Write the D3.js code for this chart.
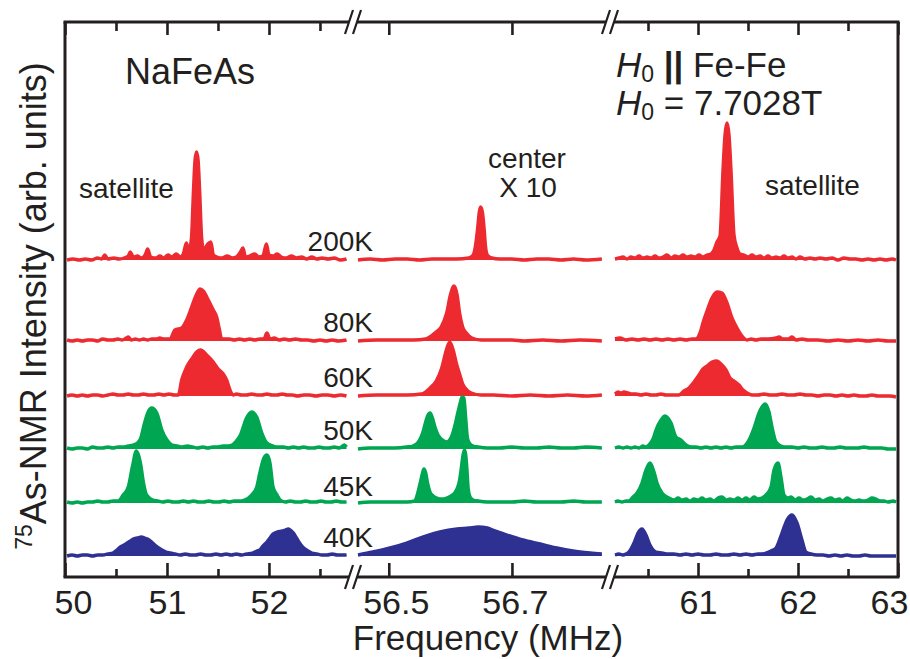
<!DOCTYPE html>
<html>
<head>
<meta charset="utf-8">
<script src="https://cdn.jsdelivr.net/npm/d3@7"></script>
<style>
  body { margin: 0; background: #ffffff; }
  svg text { font-family: "Liberation Sans", Arial, Helvetica, sans-serif; fill: #231f20; }
</style>
</head>
<body>
<svg id="chart" width="910" height="659"></svg>
<script>
// ---- 75As-NMR spectra of NaFeAs: [frequency (MHz), intensity (arb. units)] ----
const temperatures = ["200K", "80K", "60K", "50K", "45K", "40K"];

// low-frequency satellite
const lowSat200 = [[50.02,0],[50.08,1],[50.14,0],[50.20,1],[50.26,0],[50.32,2],[50.36,1],[50.39,5],[50.42,1],[50.48,2],[50.53,1],[50.58,2],[50.62,4],[50.64,8],[50.67,3],[50.71,4],[50.75,2],[50.79,6],[50.81,11],[50.84,3],[50.89,2],[50.93,4],[50.97,2],[51.01,5],[51.05,3],[51.09,6],[51.13,3],[51.16,6],[51.19,17],[51.215,9],[51.24,22],[51.26,70],[51.275,100],[51.29,108],[51.305,100],[51.32,70],[51.34,22],[51.36,10],[51.40,16],[51.43,18],[51.455,5],[51.49,3],[51.54,2],[51.59,4],[51.64,2],[51.68,3],[51.72,8],[51.745,12],[51.77,3],[51.81,4],[51.86,6],[51.90,3],[51.94,4],[51.975,16],[52.00,5],[52.04,4],[52.08,6],[52.12,3],[52.17,2],[52.22,4],[52.27,2],[52.32,3],[52.37,1],[52.42,3],[52.47,1],[52.52,2],[52.58,1],[52.64,2],[52.70,0],[52.76,1]];
const lowSat80 = [[50.02,1],[50.07,0],[50.12,1],[50.17,0],[50.22,1],[50.27,1],[50.32,0],[50.37,2],[50.42,1],[50.47,1],[50.52,2],[50.56,1],[50.60,3],[50.62,4],[50.65,1],[50.69,2],[50.73,1],[50.77,2],[50.81,1],[50.85,2],[50.89,2],[50.93,3],[50.97,2],[51.03,2],[51.078,11],[51.144,13],[51.193,21],[51.242,34],[51.291,47],[51.324,52],[51.356,50],[51.405,41],[51.454,31],[51.487,24],[51.513,12],[51.536,2],[51.56,2],[51.61,2],[51.66,1],[51.71,2],[51.76,1],[51.81,2],[51.86,1],[51.91,2],[51.95,2],[51.98,8],[52.01,2],[52.05,3],[52.10,1],[52.15,2],[52.20,1],[52.26,2],[52.32,1],[52.38,1],[52.44,0],[52.50,1],[52.56,0],[52.62,1],[52.68,0],[52.76,1]];
const lowSat60 = [[50.02,0],[50.07,1],[50.12,0],[50.17,1],[50.22,0],[50.27,1],[50.32,1],[50.37,0],[50.42,1],[50.47,2],[50.52,1],[50.57,1],[50.62,2],[50.67,1],[50.72,1],[50.77,2],[50.82,1],[50.87,1],[50.92,2],[50.97,1],[51.02,2],[51.07,1],[51.111,1],[51.144,16],[51.193,29],[51.242,37],[51.291,44],[51.330,46],[51.389,41],[51.454,34],[51.503,27],[51.552,22],[51.585,16],[51.618,6],[51.650,1],[51.68,2],[51.73,1],[51.78,1],[51.83,2],[51.88,1],[51.93,1],[51.98,2],[52.03,1],[52.08,1],[52.13,2],[52.18,1],[52.23,1],[52.28,0],[52.34,1],[52.40,1],[52.46,0],[52.52,1],[52.58,1],[52.64,0],[52.70,1],[52.76,0]];
const lowSat50 = [[50.02,1],[50.07,0],[50.12,1],[50.17,1],[50.22,0],[50.27,2],[50.32,1],[50.37,1],[50.42,2],[50.47,1],[50.52,2],[50.57,2],[50.62,3],[50.67,4],[50.71,6],[50.74,10],[50.78,26],[50.815,37],[50.85,41],[50.90,36],[50.95,19],[51.00,9],[51.05,4],[51.10,3],[51.15,2],[51.20,3],[51.25,2],[51.30,1],[51.35,2],[51.40,1],[51.45,2],[51.50,2],[51.55,3],[51.60,3],[51.64,4],[51.68,8],[51.72,14],[51.78,31],[51.83,37],[51.88,32],[51.93,16],[51.98,6],[52.04,3],[52.09,2],[52.14,2],[52.19,1],[52.24,2],[52.29,1],[52.34,2],[52.39,1],[52.44,1],[52.49,2],[52.54,1],[52.59,1],[52.64,2],[52.69,1],[52.74,4],[52.76,2]];
const lowSat45 = [[50.02,1],[50.07,0],[50.12,1],[50.17,0],[50.22,1],[50.27,1],[50.32,2],[50.37,1],[50.42,1],[50.47,2],[50.52,2],[50.57,8],[50.62,16],[50.66,36],[50.70,52],[50.74,40],[50.77,20],[50.80,8],[50.86,3],[50.91,2],[50.96,1],[51.01,2],[51.06,1],[51.11,1],[51.16,2],[51.21,1],[51.26,2],[51.31,1],[51.36,1],[51.41,2],[51.46,1],[51.51,1],[51.56,2],[51.61,1],[51.66,2],[51.71,2],[51.76,3],[51.83,8],[51.88,16],[51.91,30],[51.95,45],[51.98,48],[52.01,40],[52.04,16],[52.08,8],[52.11,3],[52.16,1],[52.21,2],[52.26,1],[52.31,1],[52.36,2],[52.41,1],[52.46,1],[52.51,2],[52.56,1],[52.61,1],[52.66,2],[52.71,1],[52.76,1]];
const lowSat40 = [[50.02,0],[50.07,1],[50.12,0],[50.17,1],[50.22,1],[50.27,0],[50.32,1],[50.37,1],[50.42,2],[50.47,3],[50.51,6],[50.54,9],[50.58,11],[50.61,13],[50.64,15],[50.67,17],[50.71,18],[50.75,19],[50.78,18],[50.81,17],[50.85,14],[50.88,11],[50.92,8],[50.95,6],[50.99,4],[51.03,3],[51.08,2],[51.13,1],[51.18,2],[51.23,1],[51.28,1],[51.33,2],[51.38,1],[51.43,1],[51.48,2],[51.53,1],[51.58,2],[51.63,1],[51.68,2],[51.73,1],[51.78,2],[51.84,3],[51.88,5],[51.91,6],[51.94,10],[51.98,14],[52.01,18],[52.04,22],[52.08,24],[52.13,25],[52.16,26],[52.19,27],[52.22,25],[52.24,23],[52.27,18],[52.30,13],[52.33,9],[52.37,6],[52.42,3],[52.47,2],[52.52,1],[52.57,1],[52.62,2],[52.67,1],[52.72,1],[52.76,1]];

// central line (shown x 10)
const center200 = [[56.45,0],[56.47,1],[56.49,0],[56.51,1],[56.53,1],[56.55,0],[56.57,1],[56.59,1],[56.61,1],[56.63,2],[56.637,5],[56.641,15],[56.644,30],[56.647,48],[56.649,53],[56.652,48],[56.655,30],[56.657,14],[56.660,5],[56.667,2],[56.68,1],[56.70,1],[56.72,0],[56.74,1],[56.76,1],[56.78,0],[56.80,1],[56.82,0],[56.846,1]];
const center80 = [[56.45,0],[56.48,1],[56.51,1],[56.54,1],[56.56,2],[56.575,8],[56.585,14],[56.594,28],[56.600,46],[56.606,55],[56.611,46],[56.615,28],[56.620,14],[56.626,8],[56.635,3],[56.65,1],[56.67,1],[56.70,1],[56.72,0],[56.75,1],[56.78,0],[56.81,1],[56.846,0]];
const center60 = [[56.45,0],[56.48,1],[56.51,1],[56.53,1],[56.553,2],[56.567,8],[56.577,15],[56.586,28],[56.593,45],[56.599,54],[56.605,45],[56.610,32],[56.615,22],[56.620,12],[56.624,8],[56.634,3],[56.65,1],[56.67,1],[56.70,0],[56.73,1],[56.76,0],[56.79,1],[56.82,0],[56.846,1]];
const center50 = [[56.45,0],[56.47,1],[56.49,1],[56.51,1],[56.529,2],[56.539,3],[56.545,5],[56.550,9],[56.555,16],[56.559,25],[56.563,33],[56.567,36],[56.571,31],[56.575,22],[56.580,14],[56.585,10],[56.594,7],[56.600,10],[56.604,16],[56.608,25],[56.612,36],[56.616,46],[56.619,52],[56.622,51],[56.625,30],[56.628,10],[56.632,5],[56.637,3],[56.645,2],[56.66,1],[56.68,1],[56.70,2],[56.72,1],[56.74,1],[56.76,2],[56.78,1],[56.80,1],[56.82,2],[56.846,1]];
const center45 = [[56.45,0],[56.47,1],[56.49,1],[56.51,1],[56.53,1],[56.542,2],[56.547,10],[56.551,20],[56.554,28],[56.557,34],[56.560,30],[56.563,20],[56.567,11],[56.572,7],[56.578,5],[56.586,4],[56.594,5],[56.601,7],[56.607,10],[56.612,16],[56.615,23],[56.618,36],[56.620,46],[56.623,53],[56.625,48],[56.627,33],[56.629,14],[56.632,6],[56.637,3],[56.645,2],[56.66,1],[56.68,1],[56.70,1],[56.72,2],[56.74,1],[56.76,1],[56.78,1],[56.80,2],[56.82,1],[56.846,1]];
const center40 = [[56.45,1],[56.474,4],[56.502,8],[56.529,13],[56.555,19],[56.583,24],[56.611,27],[56.630,28],[56.645,29],[56.660,28],[56.669,26],[56.692,21],[56.718,16],[56.746,12],[56.773,8],[56.799,5],[56.827,3],[56.846,2]];

// high-frequency satellite
const highSat200 = [[60.17,1],[60.21,2],[60.25,3],[60.29,1],[60.33,3],[60.37,2],[60.41,4],[60.45,2],[60.49,3],[60.53,2],[60.57,4],[60.61,2],[60.65,3],[60.69,5],[60.73,2],[60.77,4],[60.81,3],[60.85,5],[60.89,3],[60.93,4],[60.97,3],[61.01,5],[61.05,3],[61.09,5],[61.13,6],[61.16,10],[61.19,18],[61.22,24],[61.25,90],[61.27,125],[61.29,137],[61.31,125],[61.33,90],[61.36,25],[61.39,12],[61.42,6],[61.46,5],[61.50,3],[61.54,5],[61.58,3],[61.62,4],[61.66,2],[61.70,4],[61.74,2],[61.78,3],[61.82,2],[61.86,4],[61.90,2],[61.94,3],[61.98,1],[62.02,3],[62.07,1],[62.12,2],[62.17,1],[62.22,2],[62.28,1],[62.34,2],[62.40,0],[62.46,2],[62.52,1],[62.58,1],[62.64,0],[62.70,1],[62.76,0],[62.82,1],[62.88,0],[62.94,1],[62.98,0]];
const highSat80 = [[60.17,2],[60.22,3],[60.28,1],[60.34,2],[60.40,1],[60.46,2],[60.52,1],[60.58,2],[60.64,1],[60.70,2],[60.76,1],[60.82,2],[60.88,1],[60.94,2],[60.98,2],[61.02,8],[61.055,20],[61.09,30],[61.14,43],[61.19,49],[61.24,48],[61.29,38],[61.34,23],[61.39,13],[61.44,5],[61.49,1],[61.53,2],[61.58,1],[61.63,2],[61.70,2],[61.78,3],[61.81,4],[61.85,2],[61.90,2],[61.94,4],[61.98,1],[62.04,2],[62.10,1],[62.20,1],[62.30,0],[62.40,1],[62.50,0],[62.60,1],[62.70,0],[62.80,1],[62.90,0],[62.98,0]];
const highSat60 = [[60.17,2],[60.20,4],[60.23,3],[60.26,4],[60.30,3],[60.34,2],[60.38,2],[60.43,1],[60.48,2],[60.53,1],[60.58,1],[60.63,2],[60.68,1],[60.72,1],[60.76,1],[60.81,1],[60.86,5],[60.91,8],[60.96,14],[61.01,21],[61.05,27],[61.09,30],[61.14,34],[61.19,35],[61.23,32],[61.28,26],[61.32,18],[61.36,15],[61.41,11],[61.45,6],[61.49,3],[61.54,1],[61.60,1],[61.66,2],[61.72,1],[61.78,1],[61.84,2],[61.90,1],[61.96,1],[62.02,2],[62.08,1],[62.14,1],[62.20,0],[62.26,1],[62.32,1],[62.38,0],[62.44,1],[62.50,0],[62.56,1],[62.62,0],[62.68,0],[62.74,1],[62.80,0],[62.86,0],[62.92,0],[62.98,-1]];
const highSat50 = [[60.17,1],[60.21,2],[60.25,1],[60.29,2],[60.33,1],[60.37,2],[60.41,1],[60.45,3],[60.48,2],[60.51,4],[60.55,10],[60.58,19],[60.63,29],[60.67,33],[60.70,31],[60.73,26],[60.78,12],[60.83,9],[60.88,4],[60.93,2],[60.98,2],[61.03,1],[61.08,2],[61.13,1],[61.18,2],[61.23,1],[61.28,2],[61.33,1],[61.38,2],[61.44,2],[61.51,9],[61.56,21],[61.61,36],[61.64,42],[61.67,45],[61.71,37],[61.74,22],[61.78,7],[61.83,3],[61.88,2],[61.94,2],[62.00,1],[62.06,2],[62.12,1],[62.18,1],[62.24,2],[62.30,1],[62.36,1],[62.42,2],[62.48,1],[62.54,1],[62.60,1],[62.66,2],[62.72,1],[62.78,1],[62.84,1],[62.90,0],[62.98,0]];
const highSat45 = [[60.17,1],[60.20,2],[60.24,1],[60.28,2],[60.31,2],[60.35,6],[60.39,10],[60.44,20],[60.48,33],[60.52,40],[60.56,31],[60.59,20],[60.64,10],[60.71,5],[60.76,3],[60.80,5],[60.84,3],[60.88,4],[60.92,2],[60.96,4],[61.00,3],[61.04,5],[61.08,3],[61.12,4],[61.16,2],[61.20,5],[61.24,6],[61.28,3],[61.32,4],[61.36,3],[61.40,5],[61.44,3],[61.48,5],[61.52,3],[61.56,6],[61.60,4],[61.64,5],[61.68,8],[61.73,16],[61.76,33],[61.80,40],[61.83,26],[61.86,8],[61.90,5],[61.93,6],[61.97,3],[62.01,5],[62.05,3],[62.09,4],[62.13,6],[62.17,3],[62.21,4],[62.25,2],[62.29,4],[62.33,5],[62.37,3],[62.41,4],[62.45,2],[62.49,5],[62.53,3],[62.57,2],[62.61,3],[62.65,2],[62.70,3],[62.74,5],[62.78,4],[62.82,2],[62.86,2],[62.90,1],[62.95,2],[62.98,1]];
const highSat40 = [[60.17,1],[60.21,2],[60.25,1],[60.28,2],[60.31,4],[60.36,13],[60.40,23],[60.44,27],[60.48,21],[60.52,11],[60.58,4],[60.64,3],[60.70,2],[60.76,2],[60.82,1],[60.88,2],[60.94,1],[61.00,2],[61.06,1],[61.12,1],[61.18,2],[61.24,1],[61.30,1],[61.36,2],[61.42,1],[61.48,2],[61.54,1],[61.60,2],[61.64,2],[61.68,3],[61.73,5],[61.78,8],[61.84,23],[61.89,36],[61.94,41],[61.99,33],[62.04,16],[62.08,4],[62.13,2],[62.19,1],[62.25,1],[62.31,0],[62.37,1],[62.43,0],[62.49,1],[62.55,0],[62.61,0],[62.67,1],[62.73,0],[62.79,0],[62.85,0],[62.91,0],[62.98,0]];

// axis ticks per frequency window
const lowMajor = [50, 51, 52], lowMinor = [50.5, 51.5, 52.5];
const centerMajor = [56.5, 56.7], centerMinor = [];
const highMajor = [61, 62, 63], highMinor = [60.5, 61.5, 62.5];

// ---- layout ----
const svg = d3.select("#chart");
const frame = { left: 65, right: 898, top: 22, bottom: 577 };
const ink = "#231f20";
const colors = { "200K": "#ec2a30", "80K": "#ec2a30", "60K": "#ec2a30",
                 "50K": "#00a651", "45K": "#00a651", "40K": "#2e3192" };
// vertical stacking of the spectra (same units as intensity)
const stackOffset = { "200K": 317, "80K": 236, "60K": 181, "50K": 128, "45K": 74, "40K": 21 };

const y = d3.scaleLinear().domain([0, frame.bottom - frame.top]).range([frame.bottom, frame.top]);

const windows = [
  { scale: d3.scaleLinear().domain([50, 52.82]).range([65, 352.6]), major: lowMajor, minor: lowMinor,
    series: { "200K": lowSat200, "80K": lowSat80, "60K": lowSat60, "50K": lowSat50, "45K": lowSat45, "40K": lowSat40 } },
  { scale: d3.scaleLinear().domain([56.45, 56.856]).range([358, 608]), major: centerMajor, minor: centerMinor,
    series: { "200K": center200, "80K": center80, "60K": center60, "50K": center50, "45K": center45, "40K": center40 } },
  { scale: d3.scaleLinear().domain([60.15, 63]).range([613, 898]), major: highMajor, minor: highMinor,
    series: { "200K": highSat200, "80K": highSat80, "60K": highSat60, "50K": highSat50, "45K": highSat45, "40K": highSat40 } }
];

// ---- spectra ----
const plot = svg.append("g");
temperatures.forEach(t => {
  const off = stackOffset[t];
  windows.forEach(w => {
    const data = w.series[t];
    const area = d3.area().curve(d3.curveMonotoneX)
      .x(d => w.scale(d[0])).y0(y(off)).y1(d => y(off + Math.max(0, d[1])));
    const line = d3.line().curve(d3.curveMonotoneX)
      .x(d => w.scale(d[0])).y(d => y(off + d[1]));
    plot.append("path").attr("d", area(data)).attr("fill", colors[t]);
    plot.append("path").attr("d", line(data)).attr("fill", "none")
      .attr("stroke", colors[t]).attr("stroke-width", 3.4).attr("stroke-linejoin", "round");
  });
});

// ---- axes ----
const axes = svg.append("g");
const labelShift = { 50: 8, 56.5: 7, 56.7: 3, 63: -9 };
windows.forEach(w => {
  const bottomMajor = axes.append("g").attr("transform", `translate(0,${frame.bottom})`)
    .call(d3.axisBottom(w.scale).tickValues(w.major).tickSize(-14).tickPadding(13).tickFormat(d => String(d)));
  bottomMajor.selectAll("text").attr("font-size", 34).attr("fill", ink)
    .attr("dx", d => labelShift[d] || 0);
  const bottomMinor = axes.append("g").attr("transform", `translate(0,${frame.bottom})`)
    .call(d3.axisBottom(w.scale).tickValues(w.minor).tickSize(-8).tickFormat(""));
  const topMajor = axes.append("g").attr("transform", `translate(0,${frame.top})`)
    .call(d3.axisTop(w.scale).tickValues(w.major).tickSize(-13).tickFormat(""));
  const topMinor = axes.append("g").attr("transform", `translate(0,${frame.top})`)
    .call(d3.axisTop(w.scale).tickValues(w.minor).tickSize(-9).tickFormat(""));
  [bottomMajor, bottomMinor, topMajor, topMinor].forEach(g => {
    g.select(".domain").remove();
    g.selectAll("line").attr("stroke", ink).attr("stroke-width", 2.6);
  });
});

// frame with axis breaks
const breaks = [353, 610];
const half = 4;
const frameStroke = 3;
function hLine(yPos) {
  const xs = [frame.left - frameStroke / 2, breaks[0] - half, breaks[0] + half, breaks[1] - half, breaks[1] + half, frame.right + frameStroke / 2];
  for (let i = 0; i < xs.length; i += 2) {
    axes.append("line").attr("x1", xs[i]).attr("x2", xs[i + 1]).attr("y1", yPos).attr("y2", yPos)
      .attr("stroke", ink).attr("stroke-width", frameStroke);
  }
  breaks.forEach(b => {
    [b - half, b + half].forEach(c => {
      axes.append("line").attr("x1", c - 4).attr("y1", yPos + 12).attr("x2", c + 4).attr("y2", yPos - 12)
        .attr("stroke", ink).attr("stroke-width", 2.2);
    });
  });
}
hLine(frame.top);
hLine(frame.bottom);
axes.append("line").attr("x1", frame.left).attr("x2", frame.left).attr("y1", frame.top).attr("y2", frame.bottom)
  .attr("stroke", ink).attr("stroke-width", frameStroke);
axes.append("line").attr("x1", frame.right).attr("x2", frame.right).attr("y1", frame.top).attr("y2", frame.bottom)
  .attr("stroke", ink).attr("stroke-width", frameStroke);

// ---- axis titles ----
svg.append("text").attr("x", 488).attr("y", 650).attr("text-anchor", "middle")
  .attr("font-size", 35).text("Frequency (MHz)");
const yTitle = svg.append("text").attr("transform", "translate(46,306) rotate(-90)")
  .attr("text-anchor", "middle").attr("font-size", 36);
yTitle.append("tspan").attr("font-size", 23).attr("dy", -14).text("75");
yTitle.append("tspan").attr("dy", 14).text("As-NMR Intensity (arb. units)");

// ---- annotations ----
svg.append("text").attr("x", 125).attr("y", 84).attr("font-size", 36).text("NaFeAs");
const h1 = svg.append("text").attr("x", 616).attr("y", 77).attr("font-size", 35);
h1.append("tspan").attr("font-style", "italic").text("H");
h1.append("tspan").attr("font-size", 23).attr("dy", 5).text("0");
h1.append("tspan").attr("dy", -5).attr("font-weight", "bold").text(" ||");
h1.append("tspan").text(" Fe-Fe");
const h2 = svg.append("text").attr("x", 616).attr("y", 115).attr("font-size", 35);
h2.append("tspan").attr("font-style", "italic").text("H");
h2.append("tspan").attr("font-size", 23).attr("dy", 5).text("0");
h2.append("tspan").attr("dy", -5).text(" = 7.7028T");

svg.append("text").attr("x", 79).attr("y", 198).attr("font-size", 28).text("satellite");
svg.append("text").attr("x", 765).attr("y", 195).attr("font-size", 28).text("satellite");
svg.append("text").attr("x", 527).attr("y", 168).attr("text-anchor", "middle").attr("font-size", 28).text("center");
svg.append("text").attr("x", 528).attr("y", 197).attr("text-anchor", "middle").attr("font-size", 28).text("X 10");

const tempLabelY = { "200K": 251, "80K": 332, "60K": 387, "50K": 440, "45K": 496, "40K": 547 };
temperatures.forEach(t => {
  svg.append("text").attr("x", 373).attr("y", tempLabelY[t]).attr("text-anchor", "end")
    .attr("font-size", 28).text(t);
});
</script>
</body>
</html>
